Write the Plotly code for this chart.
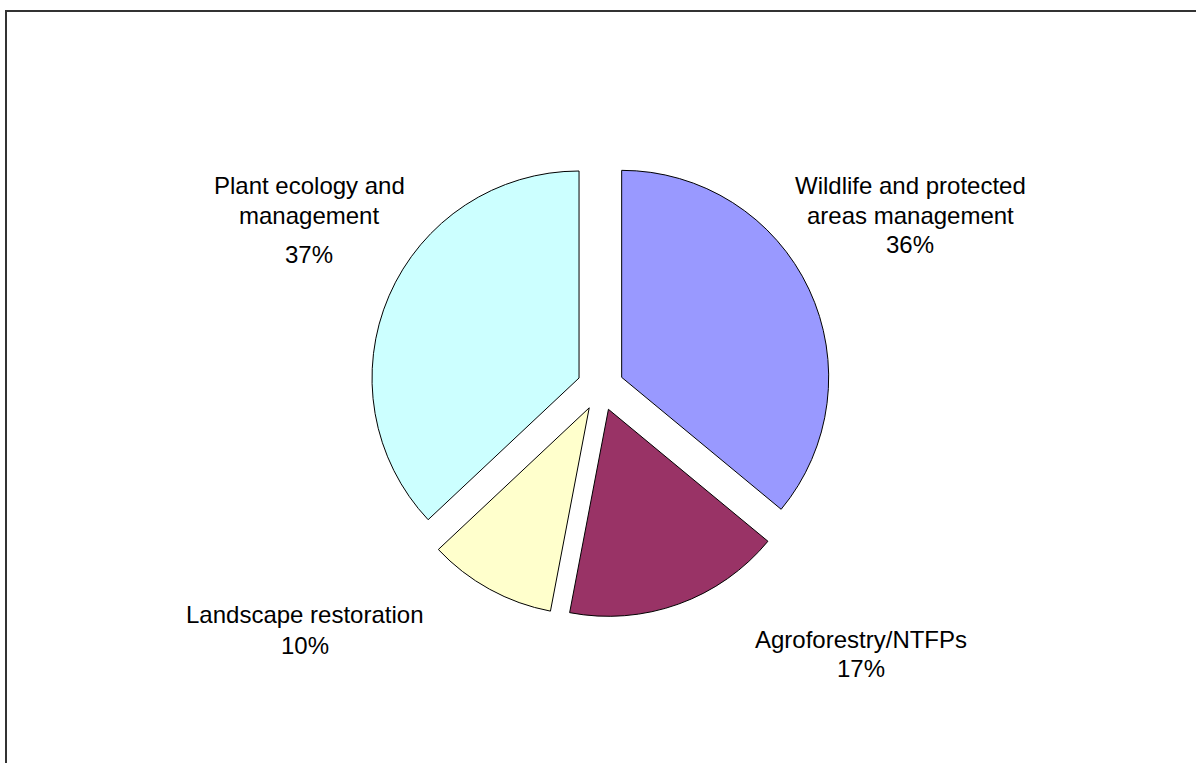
import plotly.graph_objects as go

W, H = 1196, 763

# Data
categories = ["Wildlife and protected areas management", "Agroforestry/NTFPs",
              "Landscape restoration", "Plant ecology and management"]
label_lines = [["Wildlife and protected", "areas management"],
               ["Agroforestry/NTFPs"],
               ["Landscape restoration"],
               ["Plant ecology and", "management"]]
values = [36, 17, 10, 37]
colors = ["#9999FF", "#993366", "#FFFFCC", "#CCFFFF"]

# label placement: x center and per-line vertical centers (pixels from top)
label_x = [910, 861, 304.5, 309]
label_y = [[185.5, 215.5, 244.5], [639, 668.5], [614.5, 645.5], [185.5, 215.5, 254.5]]

FONT = dict(family="Liberation Sans, Arial, sans-serif", size=24, color="black")

def px(x):
    return x / W

def py(y):
    return 1 - y / H

cx, cy, half = 600.5, 387.3, 230.4

fig = go.Figure(go.Pie(
    labels=categories,
    values=values,
    sort=False,
    direction="clockwise",
    rotation=0,
    pull=[0.113] * len(values),
    marker=dict(colors=colors, line=dict(color="black", width=1)),
    textinfo="none",
    hoverinfo="label+percent",
    showlegend=False,
    domain=dict(x=[px(cx - half), px(cx + half)], y=[py(cy + half), py(cy - half)]),
))

total = sum(values)
annotations = []
for lines, v, x, ys in zip(label_lines, values, label_x, label_y):
    texts = lines + [f"{round(100 * v / total)}%"]
    for t, y in zip(texts, ys):
        annotations.append(dict(text=t, x=px(x), y=py(y), xref="paper", yref="paper",
                                xanchor="center", yanchor="middle", showarrow=False, font=FONT))

fig.update_layout(
    width=W, height=H,
    margin=dict(l=0, r=0, t=0, b=0),
    paper_bgcolor="white",
    plot_bgcolor="white",
    annotations=annotations,
    shapes=[dict(type="rect", xref="paper", yref="paper",
                 x0=px(6), x1=1.05, y0=-0.05, y1=py(11),
                 line=dict(color="#333333", width=2), fillcolor="rgba(0,0,0,0)")],
)

fig.write_html("out.html", config={"displayModeBar": False},
               post_script="document.body.style.margin='0px';document.body.style.overflow='hidden';")
